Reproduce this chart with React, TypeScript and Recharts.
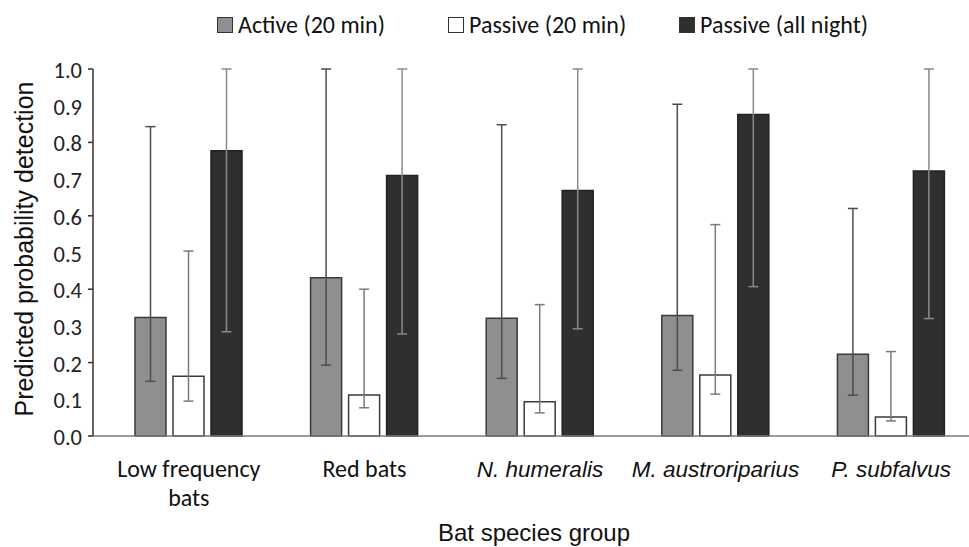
import React from "react";
import { BarChart, Bar, XAxis, YAxis, Legend, ErrorBar } from "recharts";

const categories = ["Low frequency\nbats", "Red bats", "N. humeralis", "M. austroriparius", "P. subfalvus"];
const italicCategories = [false, false, true, true, true];

const seriesNames = ["Active (20 min)", "Passive (20 min)", "Passive (all night)"];

const activeMean = [0.323, 0.431, 0.321, 0.328, 0.223];
const activeLow = [0.149, 0.193, 0.157, 0.179, 0.111];
const activeHigh = [0.843, 1.0, 0.848, 0.904, 0.62];

const passiveMean = [0.163, 0.112, 0.093, 0.166, 0.052];
const passiveLow = [0.095, 0.077, 0.063, 0.114, 0.041];
const passiveHigh = [0.504, 0.4, 0.358, 0.576, 0.23];

const nightMean = [0.777, 0.71, 0.669, 0.876, 0.722];
const nightLow = [0.284, 0.278, 0.292, 0.407, 0.32];
const nightHigh = [1.0, 1.0, 1.0, 1.0, 1.0];

const yTicks = [0, 0.1, 0.2, 0.3, 0.4, 0.5, 0.6, 0.7, 0.8, 0.9, 1.0];

const CAL = "Carlito, Lato, 'Open Sans', sans-serif";
const ARIAL = "'Liberation Sans', Arial, sans-serif";

const data = categories.map((name, i) => ({
  name,
  active: activeMean[i],
  activeErr: [activeMean[i] - activeLow[i], activeHigh[i] - activeMean[i]],
  passive: passiveMean[i],
  passiveErr: [passiveMean[i] - passiveLow[i], passiveHigh[i] - passiveMean[i]],
  night: nightMean[i],
  nightErr: [nightMean[i] - nightLow[i], nightHigh[i] - nightMean[i]],
}));

function YTick(props: any) {
  const { x, y, payload } = props;
  const v = payload.value as number;
  const major = Math.round(v * 10) % 2 === 0;
  return (
    <g>
      {major && <line x1={x + 3} y1={y} x2={x + 8} y2={y} stroke="#333" strokeWidth={1.5} />}
      <text x={x - 3} y={y} dy={9} textAnchor="end" fontFamily={CAL} fontSize={22.5} fill="#222">
        {v.toFixed(1)}
      </text>
    </g>
  );
}

function XTick(props: any) {
  const { x, y, payload, index } = props;
  const lines = String(payload.value).split("\n");
  const italic = italicCategories[index];
  return (
    <text
      x={x}
      y={y}
      textAnchor="middle"
      fontFamily={italic ? ARIAL : CAL}
      fontStyle={italic ? "italic" : "normal"}
      fontSize={italic ? 22.5 : 24}
      fill="#111"
    >
      {lines.map((l, i) => (
        <tspan key={i} x={x} dy={i === 0 ? 41 : 29}>
          {l}
        </tspan>
      ))}
    </text>
  );
}

function YTitle() {
  return (
    <text
      transform="translate(33,249) rotate(-90)"
      textAnchor="middle"
      fontFamily={ARIAL}
      fontSize={25}
      fill="#111"
    >
      Predicted probability detection
    </text>
  );
}

function XTitle() {
  return (
    <text x={534} y={541} textAnchor="middle" fontFamily={ARIAL} fontSize={24} fill="#111">
      Bat species group
    </text>
  );
}

function renderLegend() {
  const fills = ["#8f8f8f", "#ffffff", "#2f2f2f"];
  return (
    <div style={{ height: 69, position: "relative", fontFamily: CAL, fontSize: 24, color: "#111" }}>
      {seriesNames.map((name, i) => (
        <div
          key={name}
          style={{
            position: "absolute",
            left: 217 + i * 231,
            top: 11,
            height: 28,
            lineHeight: "28px",
            display: "flex",
            alignItems: "center",
            whiteSpace: "nowrap",
          }}
        >
          <span
            style={{
              display: "inline-block",
              width: 14,
              height: 14,
              background: fills[i],
              border: "1px solid #333",
              marginRight: 5,
            }}
          />
          {name}
        </div>
      ))}
    </div>
  );
}

export default function App() {
  return (
    <div
      style={{
        position: "absolute",
        left: 0,
        top: 0,
        width: 969,
        height: 547,
        overflow: "hidden",
        background: "#fff",
      }}
    >
      <BarChart
        width={979}
        height={547}
        data={data}
        margin={{ top: 0, right: 0, bottom: 0, left: 0 }}
        barSize={31}
        barGap={7}
      >
        <Legend verticalAlign="top" content={renderLegend} />
        <XAxis
          dataKey="name"
          interval={0}
          height={111}
          padding={{ left: 8, right: 0 }}
          tickLine={false}
          tickSize={0}
          tickMargin={0}
          tick={<XTick />}
          axisLine={{ stroke: "#7a7a7a", strokeWidth: 1.5 }}
          label={<XTitle />}
        />
        <YAxis
          domain={[0, 1]}
          ticks={yTicks}
          interval={0}
          width={93}
          tickLine={false}
          tickSize={6}
          tickMargin={2}
          tick={<YTick />}
          axisLine={{ stroke: "#333", strokeWidth: 1.5 }}
          label={<YTitle />}
        />
        <Bar dataKey="active" name={seriesNames[0]} fill="#8f8f8f" stroke="#3a3a3a" strokeWidth={1.5} isAnimationActive={false}>
          <ErrorBar dataKey="activeErr" width={5} stroke="#4d4d4d" strokeWidth={1.5} direction="y" />
        </Bar>
        <Bar dataKey="passive" name={seriesNames[1]} fill="#ffffff" stroke="#3a3a3a" strokeWidth={1.5} isAnimationActive={false}>
          <ErrorBar dataKey="passiveErr" width={5} stroke="#7a7a7a" strokeWidth={1.5} direction="y" />
        </Bar>
        <Bar dataKey="night" name={seriesNames[2]} fill="#2f2f2f" stroke="#222" strokeWidth={1.5} isAnimationActive={false}>
          <ErrorBar dataKey="nightErr" width={5} stroke="#8a8a8a" strokeWidth={1.5} direction="y" />
        </Bar>
      </BarChart>
    </div>
  );
}
